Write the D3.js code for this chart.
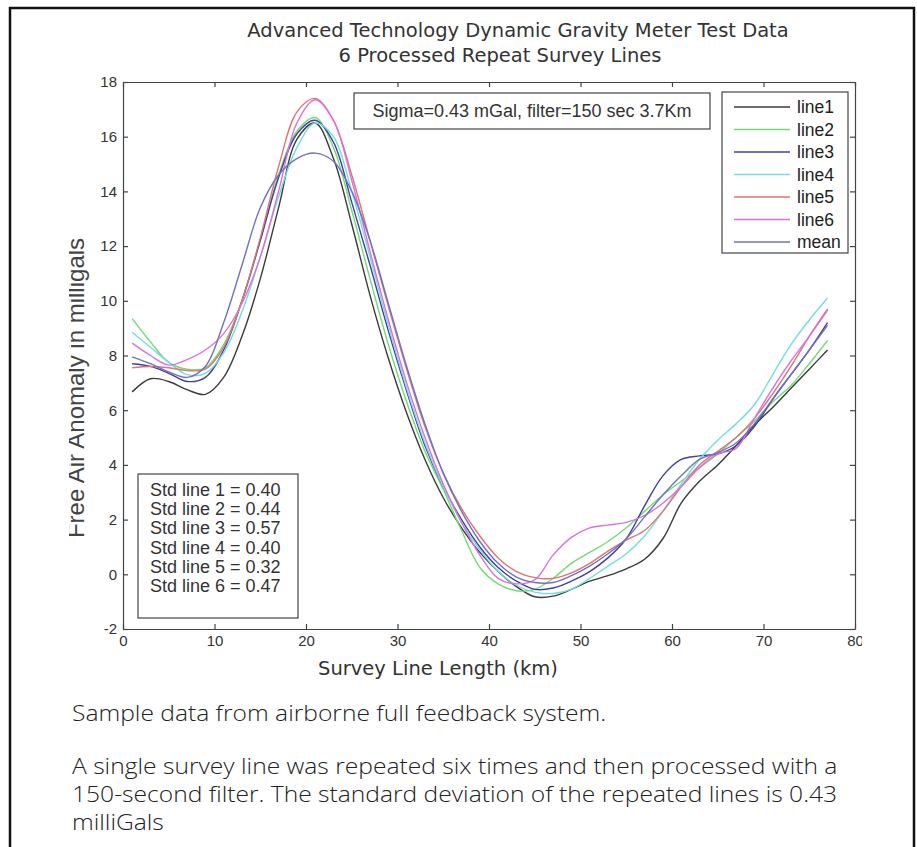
<!DOCTYPE html>
<html>
<head>
<meta charset="utf-8">
<script src="https://cdn.jsdelivr.net/npm/d3@7"></script>
<style>
  body { margin: 0; background: #fff; }
  svg { display: block; }
</style>
</head>
<body>
<script>
// _____________ data (km along the survey line)
var km = [1, 3, 5, 7, 9, 11, 13, 15, 17, 19, 21, 23, 25, 27, 29, 31, 33, 35, 37, 39,
          41, 43, 45, 47, 49, 51, 53, 55, 57, 59, 61, 63, 65, 67, 69, 71, 73, 75, 77]

var line1 = [6.67, 7.15, 7.05, 6.75, 6.58, 7.2, 8.7, 10.8, 13.4, 15.9, 16.5, 15.2, 12.8, 10.2, 7.9, 5.9, 4.2, 2.8, 1.7, 0.8,
             0.1, -0.45, -0.82, -0.8, -0.55, -0.25, -0.05, 0.2, 0.55, 1.3, 2.6, 3.4, 4.0, 4.7, 5.45, 6.1, 6.8, 7.5, 8.2]
var line2 = [9.35, 8.5, 7.75, 7.5, 7.55, 8.4, 10.0, 12.2, 14.6, 16.2, 16.7, 15.6, 13.3, 10.8, 8.4, 6.3, 4.5, 3.1, 1.6, 0.25,
             -0.35, -0.6, -0.55, -0.15, 0.4, 0.8, 1.2, 1.7, 2.3, 2.9, 3.4, 3.9, 4.4, 5.0, 5.6, 6.3, 6.9, 7.7, 8.55]
var line3 = [7.7, 7.6, 7.35, 7.05, 7.2, 8.2, 10.0, 12.2, 14.5, 16.1, 16.6, 15.8, 13.6, 11.3, 8.9, 6.7, 4.7, 3.2, 2.0, 1.0,
             0.25, -0.25, -0.55, -0.5, -0.25, 0.1, 0.6, 1.3, 2.5, 3.6, 4.2, 4.33, 4.4, 4.7, 5.4, 6.4, 7.3, 8.2, 9.2]
var line4 = [8.85, 8.3, 7.75, 7.3, 7.35, 8.1, 9.6, 11.6, 13.8, 15.6, 16.5, 16.0, 14.0, 11.6, 9.1, 6.8, 4.8, 3.2, 1.9, 0.9,
             0.1, -0.4, -0.65, -0.7, -0.55, -0.15, 0.3, 0.75, 1.4, 2.3, 3.3, 4.2, 4.9, 5.5, 6.2, 7.3, 8.4, 9.3, 10.1]
var line5 = [7.55, 7.6, 7.55, 7.45, 7.5, 8.3, 10.0, 12.3, 14.9, 16.9, 17.4, 16.6, 14.6, 12.2, 9.8, 7.5, 5.4, 3.7, 2.4, 1.4,
             0.6, 0.1, -0.12, -0.15, 0.05, 0.4, 0.85, 1.25, 1.6, 2.3, 3.2, 4.0, 4.5, 5.0, 5.7, 6.6, 7.6, 8.7, 9.7]
var line6 = [8.45, 8.0, 7.65, 7.85, 8.2, 8.8, 9.9, 11.6, 14.0, 16.5, 17.35, 16.6, 14.4, 11.8, 9.3, 7.0, 5.0, 3.3, 1.9, 0.7,
             -0.15, -0.35, -0.2, 0.7, 1.35, 1.7, 1.8, 1.9, 2.15, 2.6, 3.2, 3.9, 4.4, 4.6, 5.7, 6.8, 7.8, 8.7, 9.65]
var lineMean = [7.95, 7.7, 7.4, 7.2, 7.6, 9.2, 11.3, 13.4, 14.6, 15.2, 15.4, 15.1, 14.0, 12.2, 9.9, 7.6, 5.5, 3.7, 2.3, 1.2,
                0.4, -0.1, -0.3, -0.3, -0.05, 0.3, 0.75, 1.3, 2.1, 2.9, 3.6, 4.2, 4.45, 4.8, 5.5, 6.4, 7.3, 8.2, 9.1]

var seriesNames = ['line1', 'line2', 'line3', 'line4', 'line5', 'line6', 'mean']
var seriesValues = [line1, line2, line3, line4, line5, line6, lineMean]
var seriesColors = ['#3b3b3b', '#72dc72', '#40409e', '#70dede', '#de7474', '#de6fde', '#7070c6']

var xTicks = [0, 10, 20, 30, 40, 50, 60, 70, 80]
var yTicks = [-2, 0, 2, 4, 6, 8, 10, 12, 14, 16, 18]

var stdLabels = ['Std line 1 = 0.40', 'Std line 2 = 0.44', 'Std line 3 = 0.57',
                 'Std line 4 = 0.40', 'Std line 5 = 0.32', 'Std line 6 = 0.47']
var sigmaLabel = 'Sigma=0.43 mGal, filter=150 sec 3.7Km'
var titleLines = ['Advanced Technology Dynamic Gravity Meter Test Data', '6 Processed Repeat Survey Lines']
var captionLines = [
  'Sample data from airborne full feedback system.',
  'A single survey line was repeated six times and then processed with a',
  '150-second filter. The standard deviation of the repeated lines is 0.43',
  'milliGals'
]

// _____________ frame
var width = 917, height = 847
var plot = { left: 123, right: 855, top: 82, bottom: 629 }
var axisFont = '"Liberation Sans", Arial, sans-serif'
var titleFont = '"DejaVu Sans", Verdana, sans-serif'

var svg = d3.select('body').append('svg')
    .attr('width', width)
    .attr('height', height)
var defs = svg.append('defs')

svg.append('rect')
    .attr('x', 10).attr('y', 8)
    .attr('width', 904).attr('height', 900)
    .attr('fill', '#fff')
    .attr('stroke', '#111')
    .attr('stroke-width', 2.5)

var x = d3.scaleLinear().domain([0, 80]).range([plot.left, plot.right])
var y = d3.scaleLinear().domain([-2, 18]).range([plot.bottom, plot.top])

// _____________ title (second line sits a bit left, as in the original)
var titleX = [518, 500]
svg.selectAll('text.title')
    .data(titleLines)
  .enter().append('text')
    .attr('class', 'title')
    .attr('x', function (d, i) { return titleX[i] })
    .attr('y', function (d, i) { return 37 + i * 25 })
    .attr('text-anchor', 'middle')
    .style('font-family', titleFont)
    .style('font-size', '19.5px')
    .style('fill', '#333')
    .text(function (d) { return d })

// _____________ axes (matlab style box, ticks inside)
function styleAxis(g) {
  g.selectAll('path.domain').attr('stroke', '#444').attr('stroke-width', 1.2)
  g.selectAll('.tick line').attr('stroke', '#444').attr('stroke-width', 1.2)
  g.selectAll('.tick text')
      .style('font-family', axisFont)
      .style('font-size', '15px')
      .style('fill', '#333')
}
var plainFmt = function (d) { return String(d) }

// the source image is cut just past the last x label
defs.append('clipPath').attr('id', 'xclip')
  .append('rect').attr('x', 0).attr('y', 0).attr('width', 862).attr('height', height)

svg.append('g')
    .attr('clip-path', 'url(#xclip)')
  .append('g')
    .attr('transform', 'translate(0,' + plot.bottom + ')')
    .call(d3.axisBottom(x).tickValues(xTicks).tickSizeInner(-5).tickSizeOuter(0).tickPadding(6).tickFormat(plainFmt))
    .call(styleAxis)

svg.append('g')
    .attr('transform', 'translate(0,' + plot.top + ')')
    .call(d3.axisTop(x).tickValues(xTicks).tickSizeInner(-5).tickSizeOuter(0).tickFormat(''))
    .call(styleAxis)

svg.append('g')
    .attr('transform', 'translate(' + plot.left + ',0)')
    .call(d3.axisLeft(y).tickValues(yTicks).tickSizeInner(-5).tickSizeOuter(0).tickPadding(6).tickFormat(plainFmt))
    .call(styleAxis)

svg.append('g')
    .attr('transform', 'translate(' + plot.right + ',0)')
    .call(d3.axisRight(y).tickValues(yTicks).tickSizeInner(-5).tickSizeOuter(0).tickFormat(''))
    .call(styleAxis)

// axis labels
svg.append('text')
    .attr('x', 438).attr('y', 675)
    .attr('text-anchor', 'middle')
    .style('font-family', titleFont)
    .style('font-size', '19.5px')
    .style('fill', '#333')
    .text('Survey Line Length (km)')

// y label: left edge of the glyphs is cut in the original
defs.append('clipPath').attr('id', 'ylabclip')
  .append('rect').attr('x', 69).attr('y', 150).attr('width', 40).attr('height', 500)

svg.append('g')
    .attr('clip-path', 'url(#ylabclip)')
  .append('text')
    .attr('transform', 'translate(84,388) rotate(-90)')
    .attr('text-anchor', 'middle')
    .style('font-family', axisFont)
    .style('font-size', '24px')
    .style('fill', '#444')
    .text('Free Air Anomaly in milligals')

// _____________ lines
var lineGen = d3.line()
    .x(function (d) { return x(d[0]) })
    .y(function (d) { return y(d[1]) })
    .curve(d3.curveCatmullRom.alpha(0.5))

svg.append('g')
    .attr('class', 'lines')
    .selectAll('path')
    .data(seriesValues)
  .enter().append('path')
    .attr('d', function (vals) { return lineGen(d3.zip(km, vals)) })
    .attr('fill', 'none')
    .attr('stroke', function (d, i) { return seriesColors[i] })
    .attr('stroke-width', 1.4)
    .attr('stroke-linejoin', 'round')

// _____________ sigma box
svg.append('rect')
    .attr('x', 354).attr('y', 93).attr('width', 356).attr('height', 36)
    .attr('fill', '#fff').attr('stroke', '#444').attr('stroke-width', 1.2)
svg.append('text')
    .attr('x', 532).attr('y', 117)
    .attr('text-anchor', 'middle')
    .style('font-family', axisFont)
    .style('font-size', '18px')
    .style('fill', '#333')
    .text(sigmaLabel)

// _____________ legend
var legend = svg.append('g').attr('class', 'legend')
legend.append('rect')
    .attr('x', 722).attr('y', 92).attr('width', 126).attr('height', 161)
    .attr('fill', '#fff').attr('stroke', '#444').attr('stroke-width', 1.2)

var legItems = legend.selectAll('g.item')
    .data(seriesNames)
  .enter().append('g')
    .attr('class', 'item')
    .attr('transform', function (d, i) { return 'translate(0,' + (107 + i * 22.5) + ')' })

legItems.append('line')
    .attr('x1', 734).attr('x2', 790)
    .attr('stroke', function (d, i) { return seriesColors[i] })
    .attr('stroke-width', 1.4)
legItems.append('text')
    .attr('x', 797).attr('y', 6)
    .style('font-family', axisFont)
    .style('font-size', '17.5px')
    .style('fill', '#222')
    .text(function (d) { return d })

// _____________ std box
svg.append('rect')
    .attr('x', 138).attr('y', 474).attr('width', 160).attr('height', 144)
    .attr('fill', '#fff').attr('stroke', '#444').attr('stroke-width', 1.2)
svg.selectAll('text.std')
    .data(stdLabels)
  .enter().append('text')
    .attr('class', 'std')
    .attr('x', 150)
    .attr('y', function (d, i) { return 496 + i * 19.2 })
    .style('font-family', axisFont)
    .style('font-size', '18px')
    .style('fill', '#333')
    .text(function (d) { return d })

// _____________ caption, squeezed sideways to look like the condensed face
var captionY = [721, 774, 802, 830]
var caption = svg.append('g').attr('class', 'caption')
var capText = caption.selectAll('text')
    .data(captionLines)
  .enter().append('text')
    .attr('x', 0)
    .attr('y', function (d, i) { return captionY[i] })
    .style('font-family', '"Open Sans", sans-serif')
    .style('font-weight', 300)
    .style('font-size', '22px')
    .style('fill', '#222')
    .text(function (d) { return d })
var squeeze = 766 / capText.nodes()[1].getComputedTextLength()
caption.attr('transform', 'translate(72,0) scale(' + squeeze + ',1)')
</script>
</body>
</html>
